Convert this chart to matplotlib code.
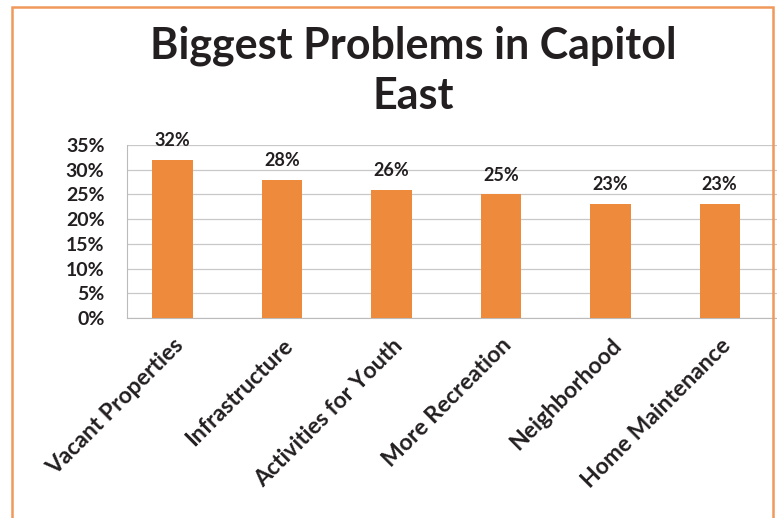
import matplotlib.pyplot as plt
from matplotlib.patches import Rectangle
from matplotlib.ticker import PercentFormatter

categories = ["Vacant Properties", "Infrastructure", "Activities for Youth",
              "More Recreation", "Neighborhood", "Home Maintenance"]
values = [32, 28, 26, 25, 23, 23]
labels = ["32%", "28%", "26%", "25%", "23%", "23%"]

plt.rcParams['font.family'] = ['Lato', 'DejaVu Sans']

fig = plt.figure(figsize=(7.77, 5.18), dpi=100)
ax = fig.add_axes([0.163, 0.386, 0.845, 0.334])

x = range(len(categories))
bars = ax.bar(x, values, width=0.37, color='#EE8A3C', zorder=3)
for b, lab in zip(bars, labels):
    ax.text(b.get_x() + b.get_width() / 2, b.get_height() + 2.2, lab,
            ha='center', va='bottom', fontsize=13, fontweight='bold', color='#231F20')

ax.set_ylim(0, 35)
ax.set_xlim(-0.42, 5.58)
ax.set_yticks(range(0, 36, 5))
ax.yaxis.set_major_formatter(PercentFormatter(decimals=0))
ax.grid(axis='y', color='#C8C8C8', linewidth=0.9, zorder=0)
for s in ['top', 'right']:
    ax.spines[s].set_visible(False)
ax.spines['left'].set_color('#BBBBBB')
ax.spines['bottom'].set_color('#BBBBBB')
ax.tick_params(axis='y', length=0, pad=16, labelsize=14, labelcolor='#231F20')
ax.tick_params(axis='x', length=0, pad=12)
for t in ax.get_yticklabels():
    t.set_fontweight('bold')
ax.set_xticks(list(x))
ax.set_xticklabels(categories, rotation=45, ha='right', rotation_mode='anchor',
                   fontsize=16.5, fontweight='bold', color='#231F20')

fig.text(0.532, 0.863, "Biggest Problems in Capitol\nEast", ha='center', va='center',
         fontsize=31, fontweight='bold', color='#231F20', linespacing=1.3)

fig.patches.append(Rectangle((12 / 777, -0.02), 761 / 777, 1 - 7 / 518 + 0.02,
                             transform=fig.transFigure, fill=False,
                             edgecolor='#F0995A', linewidth=1.8))

fig.savefig('out.png', dpi=100)
